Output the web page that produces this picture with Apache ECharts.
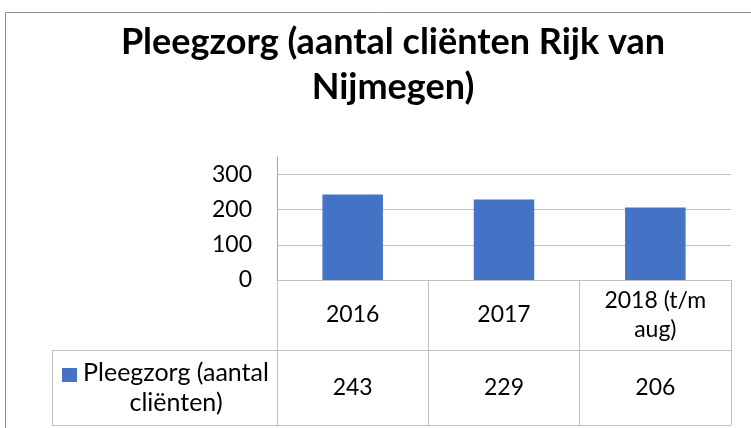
<!DOCTYPE html>
<html>
<head>
<meta charset="utf-8">
<script src="https://cdn.jsdelivr.net/npm/echarts@6/dist/echarts.min.js"></script>
<style>
html,body{margin:0;padding:0;background:#fff;}
#main{width:751px;height:428px;}
</style>
</head>
<body>
<div id="main"></div>
<script>
const titleText = 'Pleegzorg (aantal cliënten Rijk van\nNijmegen)';
const categories = ['2016', '2017', '2018 (t/m\naug)'];
const seriesName = 'Pleegzorg (aantal\ncliënten)';
const values = [243, 229, 206];
const yMin = 0, yMax = 350, yInterval = 100;

const FONT = 'Lato, "Open Sans", sans-serif';
const GRID = {left: 277, right: 20, top: 157, bottom: 148};
const W = 751, H = 428;
const tableMid = 350, tableBottom = 425, tableLeft = 52;
const LINE = '#bfbfbf';

const chart = echarts.init(document.getElementById('main'), null, {renderer: 'canvas'});

const option = {
  animation: false,
  backgroundColor: '#fff',
  grid: {left: GRID.left, right: GRID.right, top: GRID.top, bottom: GRID.bottom, containLabel: false},
  xAxis: {
    type: 'category',
    data: categories,
    boundaryGap: true,
    axisLine: {show: true, lineStyle: {color: LINE, width: 1}},
    axisTick: {show: true, interval: 0, length: tableBottom - (H - GRID.bottom), lineStyle: {color: LINE, width: 1}},
    axisLabel: {
      interval: 0, margin: 35, fontSize: 23, lineHeight: 29, color: '#000',
      fontFamily: FONT, verticalAlign: 'middle', align: 'center'
    },
    splitLine: {show: false}
  },
  yAxis: {
    type: 'value',
    min: yMin, max: yMax, interval: yInterval,
    axisLine: {show: true, lineStyle: {color: '#a6a6a6', width: 1}},
    axisTick: {show: false},
    axisLabel: {showMaxLabel: false, margin: 25, fontSize: 23, color: '#000', fontFamily: FONT},
    splitLine: {show: true, showMaxLine: false, lineStyle: {color: '#bfbfbf', width: 1}}
  },
  series: [{
    name: seriesName.replace('\n', ' '),
    type: 'bar',
    data: values,
    barCategoryGap: '60%',
    itemStyle: {color: '#4472c4'}
  }]
};
chart.setOption(option);

const gridRight = W - GRID.right;
const elements = [
  {type: 'rect', shape: {x: 5.5, y: 12.5, width: 900, height: 600}, style: {fill: null, stroke: '#8c8c8c', lineWidth: 1}, silent: true},
  {type: 'text', x: 393, y: 20, style: {text: titleText, fill: '#000', font: 'bold 36px ' + FONT, textAlign: 'center', lineHeight: 45}},
  {type: 'line', shape: {x1: tableLeft, y1: tableMid + 0.5, x2: gridRight, y2: tableMid + 0.5}, style: {stroke: LINE, lineWidth: 1}},
  {type: 'line', shape: {x1: tableLeft, y1: tableBottom + 0.5, x2: gridRight, y2: tableBottom + 0.5}, style: {stroke: LINE, lineWidth: 1}},
  {type: 'line', shape: {x1: tableLeft + 0.5, y1: tableMid, x2: tableLeft + 0.5, y2: tableBottom}, style: {stroke: LINE, lineWidth: 1}},
  {type: 'rect', shape: {x: 62, y: 368, width: 15, height: 14}, style: {fill: '#4472c4'}},
  {type: 'text', x: 176, y: (tableMid + tableBottom) / 2, style: {text: seriesName, fill: '#000', font: '25px ' + FONT, textAlign: 'center', textVerticalAlign: 'middle', lineHeight: 30}}
];
values.forEach(function (v, i) {
  const px = chart.convertToPixel({xAxisIndex: 0}, i);
  elements.push({type: 'text', x: px, y: (tableMid + tableBottom) / 2, style: {text: String(v), fill: '#000', font: '23px ' + FONT, textAlign: 'center', textVerticalAlign: 'middle'}});
});
chart.setOption({graphic: {elements: elements}});
</script>
</body>
</html>
